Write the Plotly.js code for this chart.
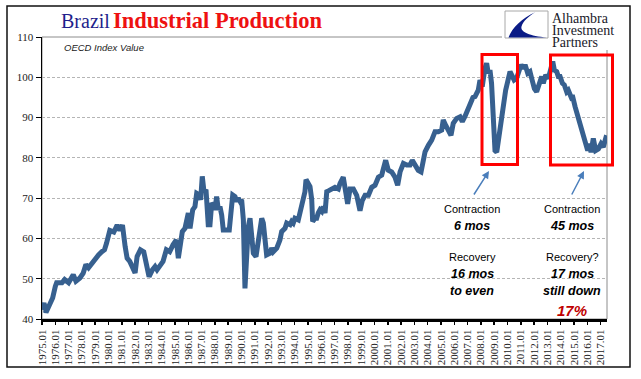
<!DOCTYPE html>
<html>
<head>
<meta charset="utf-8">
<script src="https://cdn.plot.ly/plotly-3.0.1.min.js"></script>
<style>html,body{margin:0;padding:0;background:#fff;}#chart{width:641px;height:379px;}</style>
</head>
<body>
<div id="chart"></div>
<script>
// Brazil industrial production, OECD index value (decimal year)
const periods = [
  1975.0, 1975.15, 1975.3, 1975.6, 1975.8, 1976.0, 1976.1, 1976.5, 1976.7, 1977.0,
  1977.35, 1977.55, 1977.85, 1978.1, 1978.3, 1978.5, 1978.75, 1979.0, 1979.25, 1979.5,
  1979.7, 1979.85, 1980.1, 1980.4, 1980.65, 1980.85, 1981.05, 1981.25, 1981.4, 1981.6,
  1981.85, 1982.0, 1982.15, 1982.4, 1982.65, 1982.85, 1983.05, 1983.3, 1983.5, 1983.65,
  1983.9, 1984.1, 1984.35, 1984.6, 1984.85, 1985.1, 1985.25, 1985.4, 1985.55, 1985.75,
  1985.88, 1986.0, 1986.13, 1986.33, 1986.5, 1986.63, 1986.83, 1986.93, 1987.05, 1987.18,
  1987.33, 1987.5, 1987.63, 1987.76, 1987.88, 1988.0, 1988.13, 1988.26, 1988.38, 1988.51,
  1988.63, 1988.89, 1989.08, 1989.19, 1989.34, 1989.51, 1989.64, 1989.76, 1989.89, 1990.01,
  1990.14, 1990.26, 1990.39, 1990.51, 1990.64, 1990.77, 1990.89, 1991.09, 1991.26, 1991.39,
  1991.52, 1991.64, 1991.77, 1991.89, 1992.14, 1992.27, 1992.39, 1992.65, 1992.89, 1993.02,
  1993.27, 1993.4, 1993.65, 1993.77, 1993.89, 1994.02, 1994.27, 1994.4, 1994.53, 1994.65,
  1994.77, 1994.85, 1995.02, 1995.15, 1995.28, 1995.35, 1995.53, 1995.65, 1995.77, 1995.9,
  1996.03, 1996.15, 1996.28, 1996.41, 1996.53, 1996.78, 1997.03, 1997.28, 1997.4, 1997.65,
  1997.83, 1997.98, 1998.16, 1998.41, 1998.66, 1998.91, 1999.08, 1999.29, 1999.54, 1999.79,
  2000.04, 2000.29, 2000.54, 2000.84, 2001.04, 2001.29, 2001.54, 2001.74, 2001.92, 2002.17,
  2002.42, 2002.67, 2002.84, 2003.05, 2003.29, 2003.5, 2003.67, 2003.8, 2004.05, 2004.3,
  2004.55, 2004.8, 2005.05, 2005.17, 2005.35, 2005.55, 2005.75, 2005.92, 2006.18, 2006.43,
  2006.6, 2006.8, 2007.0, 2007.2, 2007.4, 2007.56, 2007.8, 2007.93, 2008.1, 2008.3,
  2008.43, 2008.55, 2008.68, 2008.8, 2008.93, 2009.06, 2009.19, 2009.31, 2009.51, 2009.68,
  2009.86, 2010.01, 2010.19, 2010.31, 2010.5, 2010.68, 2010.86, 2011.02, 2011.19, 2011.32,
  2011.52, 2011.69, 2011.82, 2012.02, 2012.19, 2012.37, 2012.57, 2012.69, 2012.87, 2013.07,
  2013.27, 2013.4, 2013.52, 2013.7, 2013.82, 2013.95, 2014.13, 2014.27, 2014.45, 2014.57,
  2014.77, 2014.87, 2015.08, 2015.28, 2015.45, 2015.62, 2015.83, 2016.03, 2016.13, 2016.28,
  2016.45, 2016.63, 2016.83, 2017.03, 2017.2, 2017.33, 2017.45
];
const indexValue = [
  42.3, 44.0, 41.6, 43.6, 45.2, 48.1, 49.0, 49.0, 49.8, 49.0,
  51.0, 49.4, 50.2, 51.4, 53.5, 52.7, 53.9, 55.1, 55.9, 56.7,
  57.2, 58.8, 62.0, 61.6, 63.3, 62.0, 63.3, 58.0, 55.1, 54.3,
  52.2, 51.4, 55.5, 57.2, 56.7, 53.0, 50.5, 52.2, 53.0, 52.2,
  53.5, 54.3, 57.2, 56.7, 58.4, 59.6, 55.1, 59.2, 61.7, 62.5,
  65.4, 66.3, 62.5, 67.1, 67.9, 71.2, 70.8, 69.6, 75.4, 71.6,
  72.1, 63.4, 63.4, 68.8, 68.3, 67.1, 70.4, 67.1, 67.9, 65.8,
  62.1, 62.1, 62.1, 65.8, 70.8, 70.4, 69.2, 70.0, 69.2, 69.6,
  64.6, 47.6, 56.3, 62.9, 65.0, 61.7, 56.3, 55.5, 58.8, 62.9,
  65.0, 63.8, 59.6, 55.9, 56.3, 57.6, 56.7, 57.6, 59.6, 61.7,
  62.5, 63.8, 63.4, 64.2, 63.8, 65.0, 64.6, 66.3, 69.2, 70.0,
  71.6, 74.6, 73.7, 72.9, 69.6, 64.2, 65.0, 65.0, 66.3, 67.1,
  66.7, 67.9, 66.3, 71.6, 71.8, 72.3, 72.7, 72.3, 73.6, 75.2,
  72.3, 68.6, 72.3, 72.3, 70.7, 66.9, 69.4, 70.7, 70.7, 72.7,
  73.2, 75.2, 75.7, 79.4, 76.9, 76.5, 75.2, 73.2, 76.5, 78.6,
  78.2, 78.2, 79.4, 78.2, 76.9, 76.5, 79.4, 81.5, 83.1, 84.4,
  86.5, 86.5, 86.9, 89.4, 88.1, 86.5, 85.6, 88.6, 89.8, 90.2,
  89.0, 90.3, 91.9, 93.5, 95.0, 95.2, 96.8, 99.3, 97.7, 102.2,
  103.5, 101.0, 101.8, 98.5, 88.5, 81.8, 81.4, 84.3, 89.3, 93.5,
  96.8, 98.9, 101.4, 100.6, 99.3, 99.7, 101.8, 103.1, 102.2, 103.1,
  101.0, 101.4, 99.7, 97.2, 96.4, 98.1, 100.2, 98.5, 100.6, 99.7,
  102.2, 103.9, 101.8, 101.4, 100.2, 100.2, 98.5, 98.1, 96.4, 96.8,
  95.2, 95.6, 92.7, 90.6, 88.5, 86.8, 84.3, 81.8, 83.5, 81.4,
  84.8, 81.8, 82.2, 83.5, 82.7, 84.8, 85.6
];
const tickYears = [];
for (let y = 1975; y <= 2017; y++) tickYears.push(y);
const tickLabels = tickYears.map(y => y + '.01');
const logoLines = ['Alhambra', 'Investment', 'Partners'];

const W = 641, H = 379, ML = 42, MR = 34, MT = 37, MB = 60;
const PW = W - ML - MR, PH = H - MT - MB;
function px(x) { return (x - ML) / PW; }
function py(y) { return (H - MB - y) / PH; }
function rect(x0, y0, x1, y1, extra) {
  return Object.assign({type: 'rect', xref: 'paper', yref: 'paper',
    x0: px(x0), x1: px(x1), y0: py(y1), y1: py(y0)}, extra);
}
function pathOf(cmds) {
  return cmds.map(c => c[0] + (c.length > 1 ? ' ' + c.slice(1).reduce((a, v, i, arr) => {
    if (i % 2 === 0) a.push(px(v).toFixed(5) + ',' + py(arr[i + 1]).toFixed(5));
    return a;
  }, []).join(' ') : '')).join(' ');
}

const serif = 'Liberation Serif, Times New Roman, serif';
const sans = 'Liberation Sans, Arial, sans-serif';

const shapes = [
  rect(7, 6, 630, 367, {line: {color: '#111', width: 1.5}, layer: 'below'}),
  rect(42, 37, 607, 319, {line: {color: '#8c8c8c', width: 1}, layer: 'between'}),
  rect(502, 7.5, 614, 50, {line: {width: 0}, fillcolor: '#ffffff', layer: 'above'}),
  rect(505, 11, 548, 38, {line: {color: '#a8a8a8', width: 1}, fillcolor: '#ffffff', layer: 'above'}),
  {type: 'path', xref: 'paper', yref: 'paper', layer: 'above',
   path: pathOf([['M', 535.5, 12], ['C', 522, 18, 512, 28, 508.5, 37.5], ['L', 547, 37.5],
                 ['C', 530, 36, 520, 32, 521.5, 26.5], ['C', 523, 21, 529, 16, 535.5, 12], ['Z']]),
   fillcolor: '#0b1c86', line: {width: 0}},
  rect(482, 54.5, 517.5, 164.5, {line: {color: '#ff0000', width: 3}, layer: 'above'}),
  rect(550.5, 55, 612.5, 165, {line: {color: '#ff0000', width: 3}, layer: 'above'})
];

function txt(text, x, y, size, opts) {
  return Object.assign({xref: 'paper', yref: 'paper', x: px(x), y: py(y), text: text,
    showarrow: false, xanchor: 'center', yanchor: 'middle',
    font: {family: sans, size: size, color: '#000'}}, opts || {});
}

const logoFont = {family: serif, size: 14, color: '#1a1a2a'};
const annotations = [
  txt('Brazil', 59, 21, 20, {xanchor: 'left', font: {family: serif, size: 20, color: '#1f1f8c'}}),
  txt('<b>Industrial Production</b>', 111, 20.5, 22.5, {xanchor: 'left', font: {family: serif, size: 22.5, color: '#ee1111'}}),
  txt('<i>OECD Index Value</i>', 62, 47.5, 9.5, {xanchor: 'left', font: {family: sans, size: 9.5, color: '#222'}}),
  txt(logoLines[0], 551, 18, 14, {xanchor: 'left', borderpad: 0, font: logoFont}),
  txt(logoLines[1], 551, 30.5, 14, {xanchor: 'left', borderpad: 0, font: logoFont}),
  txt(logoLines[2], 551, 42.5, 14, {xanchor: 'left', borderpad: 0, font: logoFont}),
  txt('Contraction', 472, 209, 11),
  txt('<b><i>6 mos</i></b>', 472, 226, 12.5),
  txt('Recovery', 472, 257, 11),
  txt('<b><i>16 mos</i></b>', 472, 273.5, 12.5),
  txt('<b><i>to even</i></b>', 472, 291, 12.5),
  txt('Contraction', 572, 209, 11),
  txt('<b><i>45 mos</i></b>', 572, 226, 12.5),
  txt('Recovery?', 572, 257, 11),
  txt('<b><i>17 mos</i></b>', 572, 273.5, 12.5),
  txt('<b><i>still down</i></b>', 572, 291, 12.5),
  txt('<b><i>17%</i></b>', 572, 310, 15, {font: {family: sans, size: 15, color: '#c00000'}}),
  {xref: 'paper', yref: 'paper', x: px(489), y: py(171), ax: -16, ay: 25, text: '',
   showarrow: true, arrowhead: 2, arrowsize: 1, arrowwidth: 1.5, arrowcolor: '#4a7ebb'},
  {xref: 'paper', yref: 'paper', x: px(584), y: py(171), ax: -13, ay: 25, text: '',
   showarrow: true, arrowhead: 2, arrowsize: 1, arrowwidth: 1.5, arrowcolor: '#4a7ebb'}
];

const trace = {
  x: periods, y: indexValue, type: 'scatter', mode: 'lines',
  line: {color: '#37608f', width: 5}, hoverinfo: 'skip'
};

const layout = {
  width: W, height: H, margin: {l: ML, r: MR, t: MT, b: MB},
  paper_bgcolor: '#ffffff', plot_bgcolor: '#ffffff', showlegend: false,
  xaxis: {range: [1975.0, 2017.48], tickvals: tickYears, ticktext: tickLabels,
    tickangle: -90, tickfont: {family: serif, size: 11, color: '#222'},
    showgrid: false, zeroline: false, showline: true, linecolor: '#000', linewidth: 3,
    ticks: 'outside', ticklen: 3, tickwidth: 1.5, tickcolor: '#000', fixedrange: true},
  yaxis: {range: [40, 110], dtick: 10, tick0: 40,
    tickfont: {family: serif, size: 11, color: '#222'},
    showgrid: true, gridcolor: '#b5b5b5', griddash: '3px,2px', gridwidth: 1,
    zeroline: false, showline: true, linecolor: '#000', linewidth: 1.5,
    ticks: 'outside', ticklen: 5, tickwidth: 1, tickcolor: '#000', fixedrange: true},
  shapes: shapes, annotations: annotations
};

Plotly.newPlot('chart', [trace], layout, {displayModeBar: false, staticPlot: true});
</script>
</body>
</html>
